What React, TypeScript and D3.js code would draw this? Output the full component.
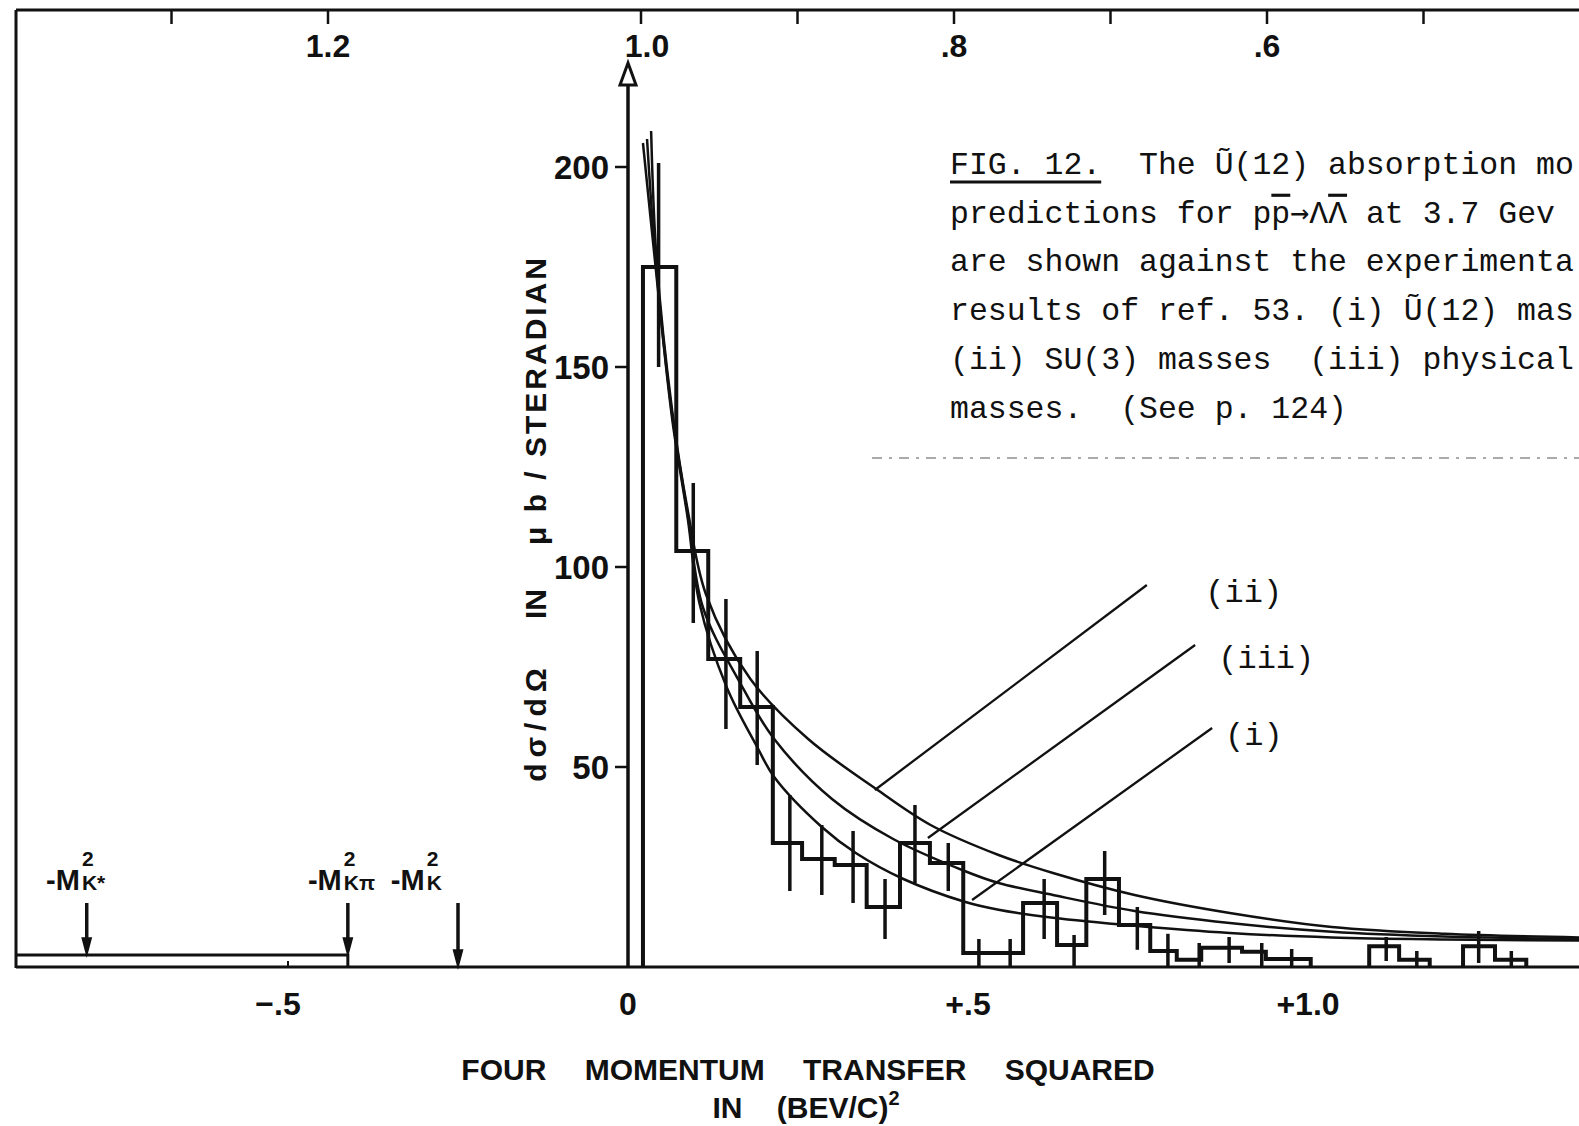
import React from 'react';
import * as d3 from 'd3';

const W = 1579;
const H = 1126;

// histogram (t in (BeV/c)^2, dσ/dΩ in µb/sr); three contiguous groups
const histEdges = [
  [0.022, 0.071, 0.118, 0.165, 0.213, 0.256, 0.304, 0.351, 0.4, 0.444, 0.493, 0.537, 0.581, 0.631, 0.674, 0.722, 0.768, 0.807, 0.843, 0.903, 0.938, 1.004],
  [1.09, 1.134, 1.179],
  [1.228, 1.275, 1.321],
];
const histValues = [
  [175, 104, 77, 65, 31, 27, 25.5, 15, 31, 26, 3.5, 3.5, 16, 5.5, 22, 10.5, 4, 1.8, 4.8, 3.8, 2],
  [5.2, 1.8],
  [5.2, 1.8],
];

// error bars
const errT = [0.045, 0.096, 0.144, 0.19, 0.238, 0.285, 0.331, 0.378, 0.422, 0.471, 0.516, 0.562, 0.612, 0.656, 0.701, 0.749, 0.794, 0.84, 0.884, 0.932, 0.976, 1.115, 1.16, 1.251, 1.299];
const errLo = [150, 86, 59.5, 50.5, 19, 18, 16, 7, 21, 19, 0, 0, 7, 0, 13, 4.3, 0, 0, 1, 0, 0, 1.5, 0, 1, 0];
const errHi = [201, 121, 92, 79, 43, 35.5, 34, 22, 40.5, 31, 7, 7, 22, 8, 29, 15, 8.3, 6, 7.5, 6, 4.5, 7.5, 4, 9, 4];

// model curves (i) U(12) masses, (ii) SU(3) masses, (iii) physical masses
const curveI: [number, number][] = [[0.022, 206], [0.04, 176], [0.065, 137], [0.088, 112], [0.105, 91], [0.145, 70], [0.19, 55], [0.215, 47.5], [0.285, 35], [0.335, 28.5], [0.405, 22], [0.495, 16.3], [0.545, 14.3], [0.625, 12.3], [0.745, 10.3], [0.885, 8.5], [1.035, 7.4], [1.2, 6.9], [1.4, 6.6]];
const curveII: [number, number][] = [[0.034, 209], [0.042, 177], [0.065, 139], [0.088, 114], [0.115, 93], [0.18, 72], [0.265, 57], [0.365, 44.5], [0.445, 35.5], [0.545, 28], [0.625, 23.5], [0.745, 18], [0.885, 13.5], [1.035, 10], [1.2, 8.3], [1.4, 7.4]];
const curveIII: [number, number][] = [[0.028, 207], [0.041, 176], [0.065, 138], [0.088, 113], [0.11, 90], [0.165, 71], [0.215, 57], [0.3, 42], [0.39, 32], [0.495, 24], [0.545, 21], [0.625, 18], [0.745, 14], [0.885, 11], [1.035, 8.8], [1.2, 7.6], [1.4, 7]];

// leader lines to the curve labels: [t0, v0, t1, v1]
const leaderNames = ['(ii)', '(iii)', '(i)'];
const leaders = [[0.363, 44.25, 0.763, 95.5], [0.441, 32.25, 0.834, 80.5], [0.506, 16.75, 0.859, 59.75]];
const leaderLabelPos = [[0.849, 91.25], [0.868, 74.75], [0.878, 55.5]];

// -M^2 markers on the unphysical side
const markerT = [-0.796, -0.412, -0.25];
const markerSub = ['K*', 'Kπ', 'K'];
const markerLabelT = [-0.806, -0.421, -0.299];
const markerEnd = [3, 3, 0];
const shelfLevel = 3;

const yTicks = [50, 100, 150, 200];
const bottomTicks = [-0.5, 0, 0.5, 1.0];
const bottomLabels = ['\u2212.5', '0', '+.5', '+1.0'];
const topTicks = [1.3, 1.2, 1.0, 0.9, 0.8, 0.7, 0.6, 0.5];
const topLabelVals = [1.2, 1.0, 0.8, 0.6];
const topLabels = ['1.2', '1.0', '.8', '.6'];

const caption = [
  'FIG. 12.  The \u0168(12) absorption mo',
  null,
  'are shown against the experimenta',
  'results of ref. 53. (i) \u0168(12) mas',
  '(ii) SU(3) masses  (iii) physical',
  'masses.  (See p. 124)',
];

const SANS = "'Liberation Sans', Arial, sans-serif";
const MONO = "'Liberation Mono', 'DejaVu Sans Mono', monospace";
const INK = '#111';

export default function App() {
  const x = d3.scaleLinear().domain([-0.9, 1.4]).range([16, 1580]);
  const y = d3.scaleLinear().domain([0, 200]).range([967, 167]);
  const top = d3.scaleLinear().domain([1.0, 0.5]).range([641, 1423.5]);

  const line = d3.line<[number, number]>()
    .x(d => x(d[0]))
    .y(d => y(d[1]))
    .curve(d3.curveCatmullRom.alpha(0.5));

  const histPath = (edges: number[], vals: number[]) => {
    const p = d3.path();
    p.moveTo(x(edges[0]), y(0));
    vals.forEach((v, i) => {
      p.lineTo(x(edges[i]), y(v));
      p.lineTo(x(edges[i + 1]), y(v));
    });
    p.lineTo(x(edges[edges.length - 1]), y(0));
    return p.toString();
  };

  const x0 = x(0);
  const left = x.range()[0];
  const capX = 950;
  const capY0 = 174;
  const capDy = 48.7;
  const capFont = 31.5;

  return (
    <div style={{ position: 'absolute', left: 0, top: 0 }}>
      <svg width={W} height={H} style={{ display: 'block', background: '#fff' }}>
        <rect width={W} height={H} fill="#fff" />

        {/* frame */}
        <line x1={left} x2={W} y1={10} y2={10} stroke={INK} strokeWidth={3} />
        <line x1={left} x2={left} y1={10} y2={y(0) + 1} stroke={INK} strokeWidth={3} />
        <line x1={left} x2={W} y1={y(0)} y2={y(0)} stroke={INK} strokeWidth={3} />

        {/* top axis */}
        {topTicks.map(t => (
          <line key={t} x1={top(t)} x2={top(t)} y1={10} y2={24} stroke={INK} strokeWidth={2.5} />
        ))}
        {topLabelVals.map((t, i) => (
          <text key={t} x={top(t) + (t === 1.0 ? 6 : 0)} y={57} textAnchor="middle" fontFamily={SANS} fontWeight="bold" fontSize={32} fill={INK}>
            {topLabels[i]}
          </text>
        ))}

        {/* y axis with open arrow */}
        <line x1={x0} x2={x0} y1={y(222)} y2={y(0)} stroke={INK} strokeWidth={3.5} />
        <path d={`M${x0},${y(226)}L${x0 - 8},${y(220.5)}L${x0 + 8},${y(220.5)}Z`} fill="#fff" stroke={INK} strokeWidth={3} />
        {yTicks.map(v => (
          <g key={v}>
            <line x1={x0 - 13} x2={x0} y1={y(v)} y2={y(v)} stroke={INK} strokeWidth={2.5} />
            <text x={x0 - 19} y={y(v) + 12} textAnchor="end" fontFamily={SANS} fontWeight="bold" fontSize={33} fill={INK}>
              {v}
            </text>
          </g>
        ))}

        {/* y title, rotated */}
        <g fontFamily={SANS} fontWeight="bold" fontSize={30} fill={INK}>
          <text transform="translate(546,722) rotate(-90)" textAnchor="middle" letterSpacing={6}>dσ/dΩ</text>
          <text transform="translate(546,604) rotate(-90)" textAnchor="middle">IN</text>
          <text transform="translate(546,400) rotate(-90)" textAnchor="middle" letterSpacing={3} xmlSpace="preserve">μ b / STERADIAN</text>
        </g>

        {/* bottom axis labels */}
        <line x1={x(-0.5)} x2={x(-0.5)} y1={y(0)} y2={y(0) - 6} stroke={INK} strokeWidth={2} />
        {bottomTicks.map((t, i) => (
          <text key={t} x={x(t) + (t < 0 ? -10 : 0)} y={1015} textAnchor="middle" fontFamily={SANS} fontWeight="bold" fontSize={32} fill={INK}>
            {bottomLabels[i]}
          </text>
        ))}
        <text x={808} y={1080} textAnchor="middle" fontFamily={SANS} fontWeight="bold" fontSize={30} wordSpacing={30} fill={INK}>
          FOUR MOMENTUM TRANSFER SQUARED
        </text>
        <text x={806} y={1118} textAnchor="middle" fontFamily={SANS} fontWeight="bold" fontSize={30} wordSpacing={26} fill={INK}>
          IN (BEV/C)<tspan fontSize={20} dy={-13}>2</tspan>
        </text>

        {/* unphysical region shelf and -M^2 markers */}
        <path d={`M${left},${y(shelfLevel)}L${x(markerT[1])},${y(shelfLevel)}L${x(markerT[1])},${y(0)}`} fill="none" stroke={INK} strokeWidth={3} />
        {markerT.map((t, i) => {
          const xm = x(t);
          const yEnd = y(markerEnd[i]);
          const xl = x(markerLabelT[i]);
          return (
            <g key={i}>
              <line x1={xm} x2={xm} y1={y(16)} y2={yEnd - 10} stroke={INK} strokeWidth={3.5} />
              <path d={`M${xm - 4.5},${yEnd - 17}L${xm + 4.5},${yEnd - 17}L${xm},${yEnd}Z`} fill={INK} stroke={INK} strokeWidth={1.5} />
              <text x={xl} y={890} textAnchor="end" fontFamily={SANS} fontWeight="bold" fontSize={29} fill={INK}>-M</text>
              <text x={xl + 2} y={866} fontFamily={SANS} fontWeight="bold" fontSize={21} fill={INK}>2</text>
              <text x={xl + 2} y={890} fontFamily={SANS} fontWeight="bold" fontSize={21} fill={INK}>{markerSub[i]}</text>
            </g>
          );
        })}

        {/* histogram */}
        {histEdges.map((e, i) => (
          <path key={i} d={histPath(e, histValues[i])} fill="none" stroke={INK} strokeWidth={4} strokeLinejoin="miter" />
        ))}
        {errT.map((t, i) => (
          <line key={i} x1={x(t)} x2={x(t)} y1={y(errHi[i])} y2={y(errLo[i])} stroke={INK} strokeWidth={3.5} />
        ))}

        {/* model curves */}
        {[curveI, curveII, curveIII].map((c, i) => (
          <path key={i} d={line(c) || ''} fill="none" stroke={INK} strokeWidth={2.5} />
        ))}

        {/* leaders and curve labels */}
        {leaders.map((l, i) => (
          <g key={i}>
            <line x1={x(l[0])} y1={y(l[1])} x2={x(l[2])} y2={y(l[3])} stroke={INK} strokeWidth={2.3} />
            <text x={x(leaderLabelPos[i][0])} y={y(leaderLabelPos[i][1])} fontFamily={MONO} fontSize={32} fill={INK}>
              {leaderNames[i]}
            </text>
          </g>
        ))}

        {/* caption */}
        <g fontFamily={MONO} fontSize={capFont} fill={INK}>
          {caption.map((s, i) => s && (
            <text key={i} x={capX} y={capY0 + i * capDy} xmlSpace="preserve">{s}</text>
          ))}
          <text x={capX} y={capY0 + capDy} xmlSpace="preserve">
            {'predictions for p'}
            <tspan style={{ textDecoration: 'overline' }}>p</tspan>
            <tspan fontFamily="'DejaVu Sans Mono', monospace">→</tspan>
            {'Λ'}
            <tspan style={{ textDecoration: 'overline' }}>Λ</tspan>
            {' at 3.7 Gev'}
          </text>
        </g>
        <line x1={capX} x2={capX + 8 * capFont * 0.6} y1={capY0 + 8} y2={capY0 + 8} stroke={INK} strokeWidth={3} />
        <line x1={872} x2={W} y1={458} y2={458} stroke="#444" strokeWidth={1.5} strokeDasharray="10 7 3 7" opacity={0.6} />
      </svg>
    </div>
  );
}
